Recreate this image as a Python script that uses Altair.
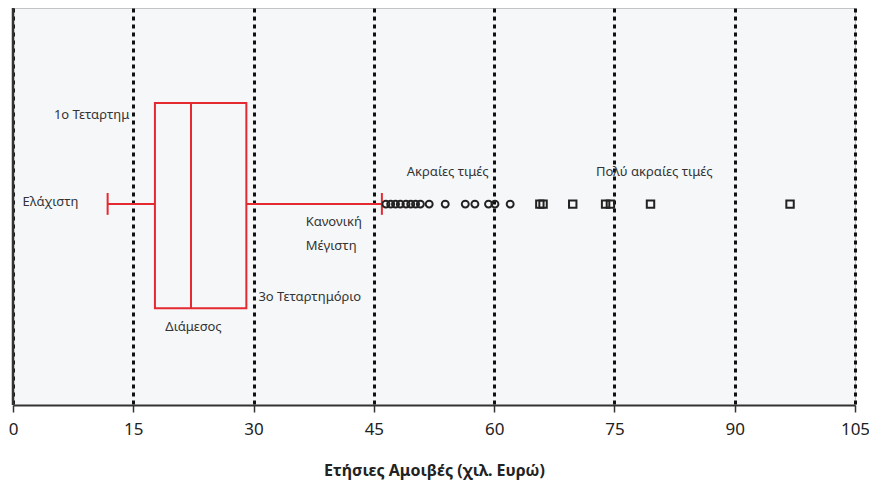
import altair as alt
import pandas as pd

# Box statistics (thousand euro)
stat_names = ["min", "q1", "median", "q3", "max"]
stat_values = [11.8, 17.7, 22.2, 29.1, 46.0]

# Outliers
extreme_values = [46.5, 47.1, 47.7, 48.3, 49.0, 49.6, 50.2, 50.8, 51.9, 53.9,
                  56.4, 57.6, 59.3, 60.1, 62.0]
very_extreme_values = [65.7, 66.1, 69.8, 73.9, 74.5, 79.5, 96.9]

# Annotations
label_texts = ["1ο Τεταρτημ", "Ελάχιστη", "Κανονική", "Μέγιστη", "3ο Τεταρτημόριο",
               "Διάμεσος", "Ακραίες τιμές", "Πολύ ακραίες τιμές"]
label_x = [5.1, 1.2, 36.5, 36.5, 30.6, 19.0, 49.1, 72.7]
label_y = [73.0, 51.1, 46.2, 40.1, 27.2, 19.6, 58.7, 58.7]

x_ticks = [0, 15, 30, 45, 60, 75, 90, 105]

RED = "#e42a30"
FONT = "Noto Sans"
Y_MID, Y_LO, Y_HI = 50.6, 24.4, 76.1
CAP_LO, CAP_HI = 47.9, 53.4

s = dict(zip(stat_names, stat_values))

xs = alt.Scale(domain=[0, 105], nice=False, zero=True)
ys = alt.Scale(domain=[0, 100])

xaxis = alt.Axis(values=x_ticks, grid=True, gridDash=[4, 4], gridWidth=3, gridColor="#111",
                 gridOpacity=1, domainColor="#333", domainWidth=2, tickColor="#333",
                 tickWidth=1.5, tickSize=7, labelFontSize=17, labelFont=FONT,
                 labelColor="#222", labelPadding=9, title="Ετήσιες Αμοιβές (χιλ. Ευρώ)",
                 titleFont=FONT, titleFontSize=16, titleFontWeight="bold", titleColor="#222",
                 titlePadding=25, labelFlush=False)

base_df = pd.DataFrame([{"dummy": 0}])

grid_layer = alt.Chart(base_df).mark_rule(opacity=0).encode(
    x=alt.X("v:Q", scale=xs, axis=xaxis),
).transform_calculate(v="0")

left_line = alt.Chart(base_df).mark_rule(color="#333", strokeWidth=2.5).encode(
    x=alt.X("v:Q", scale=xs), y=alt.value(0), y2=alt.value(397)
).transform_calculate(v="0")

box_df = pd.DataFrame({"q1": [s["q1"]], "q3": [s["q3"]], "lo": [Y_LO], "hi": [Y_HI]})
box = alt.Chart(box_df).mark_rect(fillOpacity=0, stroke=RED, strokeWidth=2).encode(
    x=alt.X("q1:Q", scale=xs), x2="q3:Q",
    y=alt.Y("lo:Q", scale=ys, axis=None), y2="hi:Q")

vr_df = pd.DataFrame({
    "x": [s["median"], s["min"], s["max"]],
    "lo": [Y_LO, CAP_LO, CAP_LO],
    "hi": [Y_HI, CAP_HI, CAP_HI],
})
vrules = alt.Chart(vr_df).mark_rule(color=RED, strokeWidth=2).encode(
    x=alt.X("x:Q", scale=xs), y=alt.Y("lo:Q", scale=ys, axis=None), y2="hi:Q")

hr_df = pd.DataFrame({
    "a": [s["min"], s["q3"]],
    "b": [s["q1"], s["max"]],
    "y": [Y_MID, Y_MID],
})
hrules = alt.Chart(hr_df).mark_rule(color=RED, strokeWidth=2).encode(
    x=alt.X("a:Q", scale=xs), x2="b:Q", y=alt.Y("y:Q", scale=ys, axis=None))

circ_df = pd.DataFrame({"x": extreme_values, "y": [Y_MID] * len(extreme_values)})
circles = alt.Chart(circ_df).mark_point(shape="circle", filled=False, size=48,
                                        stroke="#222", strokeWidth=2, opacity=1).encode(
    x=alt.X("x:Q", scale=xs), y=alt.Y("y:Q", scale=ys, axis=None))

sq_df = pd.DataFrame({"x": very_extreme_values, "y": [Y_MID] * len(very_extreme_values)})
squares = alt.Chart(sq_df).mark_point(shape="square", filled=False, size=55,
                                      stroke="#222", strokeWidth=2, opacity=1).encode(
    x=alt.X("x:Q", scale=xs), y=alt.Y("y:Q", scale=ys, axis=None))

lab_df = pd.DataFrame({"t": label_texts, "x": label_x, "y": label_y})
labels = alt.Chart(lab_df).mark_text(align="left", baseline="middle", font=FONT,
                                     fontSize=13, color="#333").encode(
    x=alt.X("x:Q", scale=xs), y=alt.Y("y:Q", scale=ys, axis=None), text="t:N")

chart = alt.layer(grid_layer, left_line, box, vrules, hrules, circles, squares, labels).properties(
    width=842, height=397,
    autosize=alt.AutoSizeParams(type="none"),
    padding={"left": 5, "top": 0, "right": 14, "bottom": 76},
).configure_view(fill="#f6f7f9", stroke="#c4c4c4", strokeWidth=1)

chart.save("out.html", embed_options={"renderer": "svg", "actions": False})
